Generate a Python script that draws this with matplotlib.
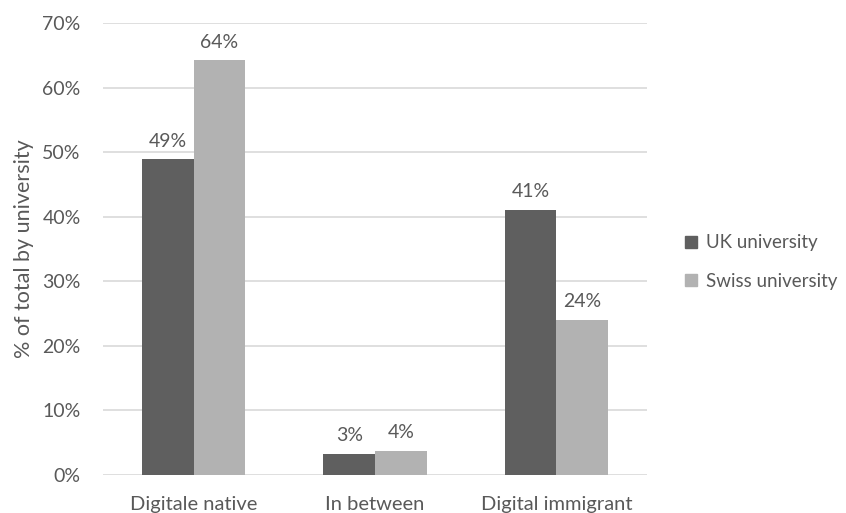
import matplotlib

matplotlib.use("Agg")
import matplotlib.pyplot as plt
import numpy as np
from matplotlib.patches import Patch
from matplotlib.ticker import PercentFormatter

categories = ["Digitale native", "In between", "Digital immigrant"]
series = ["UK university", "Swiss university"]
uk = [48.9, 3.3, 41.1]
swiss = [64.2, 3.7, 24.0]
uk_labels = ["49%", "3%", "41%"]
swiss_labels = ["64%", "4%", "24%"]

TEXT = "#595959"
COLORS = ["#5f5f5f", "#b2b2b2"]

plt.rcParams.update({
    "font.family": ["Lato", "DejaVu Sans"],
    "font.size": 14,
    "text.color": TEXT,
    "xtick.color": TEXT,
    "ytick.color": TEXT,
})

fig = plt.figure(figsize=(8.46, 5.13), dpi=100)
ax = fig.add_axes([0.1217, 0.0741, 0.6431, 0.8811])

x = np.arange(len(categories))
w = 0.285
for vals, labs, off, col in [(uk, uk_labels, -w / 2, COLORS[0]), (swiss, swiss_labels, w / 2, COLORS[1])]:
    bars = ax.bar(x + off, vals, w, color=col, zorder=3)
    for b, lab in zip(bars, labs):
        ax.annotate(lab, (b.get_x() + b.get_width() / 2, b.get_height()),
                    xytext=(0, 7), textcoords="offset points",
                    ha="center", va="bottom", fontsize=14, color=TEXT)

ax.set_xlim(-0.5, 2.5)
ax.set_ylim(0, 70)
ax.set_yticks(range(0, 71, 10))
ax.yaxis.set_major_formatter(PercentFormatter(decimals=0))
ax.set_xticks(x)
ax.set_xticklabels(categories, fontsize=14.5)
ax.grid(axis="y", color="#d9d9d9", linewidth=1.2, zorder=0)
for s in ax.spines.values():
    s.set_visible(False)
ax.tick_params(axis="y", length=0, labelsize=14, pad=16)
ax.tick_params(axis="x", length=0, pad=15)
ax.set_ylabel("% of total by university", fontsize=15.5, color=TEXT, labelpad=6)

handles = [Patch(color=c, label=s) for c, s in zip(COLORS, series)]
fig.legend(handles=handles, loc="center left", bbox_to_anchor=(0.81, 0.489),
           frameon=False, fontsize=13.5, handlelength=0.6, handleheight=0.6,
           handletextpad=0.5, labelspacing=1.15, borderpad=0, borderaxespad=0)

fig.savefig("out.png", dpi=100)
